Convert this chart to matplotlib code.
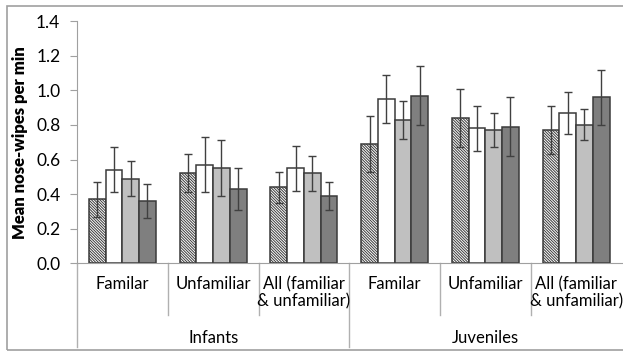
import matplotlib.pyplot as plt
import matplotlib.transforms as mtransforms
from matplotlib.patches import Rectangle
import numpy as np

plt.rcParams['font.family'] = ['Lato', 'DejaVu Sans']
plt.rcParams['hatch.linewidth'] = 0.7
plt.rcParams['hatch.color'] = '#333333'

# data
groups = ["Familar", "Unfamiliar", "All (familiar\n& unfamiliar)",
          "Familar", "Unfamiliar", "All (familiar\n& unfamiliar)"]
ages = ["Infants", "Juveniles"]

s1 = [0.37, 0.52, 0.44, 0.69, 0.84, 0.77]
s2 = [0.54, 0.57, 0.55, 0.95, 0.78, 0.87]
s3 = [0.49, 0.55, 0.52, 0.83, 0.77, 0.80]
s4 = [0.36, 0.43, 0.39, 0.97, 0.79, 0.96]

e1 = [0.10, 0.11, 0.09, 0.16, 0.17, 0.14]
e2 = [0.13, 0.16, 0.13, 0.14, 0.13, 0.12]
e3 = [0.10, 0.16, 0.10, 0.11, 0.10, 0.09]
e4 = [0.10, 0.12, 0.08, 0.17, 0.17, 0.16]

fig = plt.figure(figsize=(6.23, 3.52), dpi=100)
ax = fig.add_axes([0.1236, 0.252, 0.874, 0.688])

x = np.arange(len(groups))
w = 0.184
edge = '#3a3a3a'
styles = [dict(color='white', hatch='\\' * 12),
          dict(color='white'),
          dict(color='#c0c0c0'),
          dict(color='#7f7f7f')]

for k, (vals, errs) in enumerate([(s1, e1), (s2, e2), (s3, e3), (s4, e4)]):
    pos = x + (k - 1.5) * w
    ax.bar(pos, vals, w, edgecolor=edge, linewidth=1.1, zorder=2, **styles[k])
    ax.errorbar(pos, vals, yerr=errs, fmt='none', ecolor='#404040',
                elinewidth=1.0, capsize=3, capthick=1.0, zorder=3)

ax.set_xlim(-0.5, len(groups) - 0.5)
ax.set_ylim(0, 1.4)
ax.set_yticks(np.arange(0, 1.41, 0.2))
ax.set_yticklabels([f"{v:.1f}" for v in np.arange(0, 1.41, 0.2)], fontsize=12.5)
ax.tick_params(axis='y', length=5, color='#a0a0a0', pad=7)
ax.set_xticks([])
for sp in ['top', 'right']:
    ax.spines[sp].set_visible(False)
ax.spines['left'].set_color('#a0a0a0')
ax.spines['bottom'].set_color('#a0a0a0')
ax.set_ylabel("Mean nose-wipes per min", fontsize=12, fontweight='heavy', labelpad=6)

# multi-level category axis
trans = mtransforms.blended_transform_factory(ax.transData, ax.transAxes)
ax_h = 0.688 * 352
def ay(px):
    return -px / ax_h

for i in range(len(groups)):
    xb = i - 0.5
    long_line = (i % 3 == 0)
    ax.plot([xb, xb], [0, ay(84 if long_line else 52)], color='#b0b0b0',
            lw=1.0, transform=trans, clip_on=False)

for i, g in enumerate(groups):
    ax.text(i, ay(13), g, transform=trans, ha='center', va='top',
            fontsize=12, linespacing=1.1)

for j, a in enumerate(ages):
    ax.text(j * 3 + 1, ay(67), a, transform=trans, ha='center', va='top',
            fontsize=12)

fig.patches.append(Rectangle((7 / 623, 2 / 352), 1.2, 344 / 352,
                             transform=fig.transFigure, fill=False,
                             edgecolor='#a0a0a0', lw=1.2))

fig.savefig("out.png", dpi=100)
